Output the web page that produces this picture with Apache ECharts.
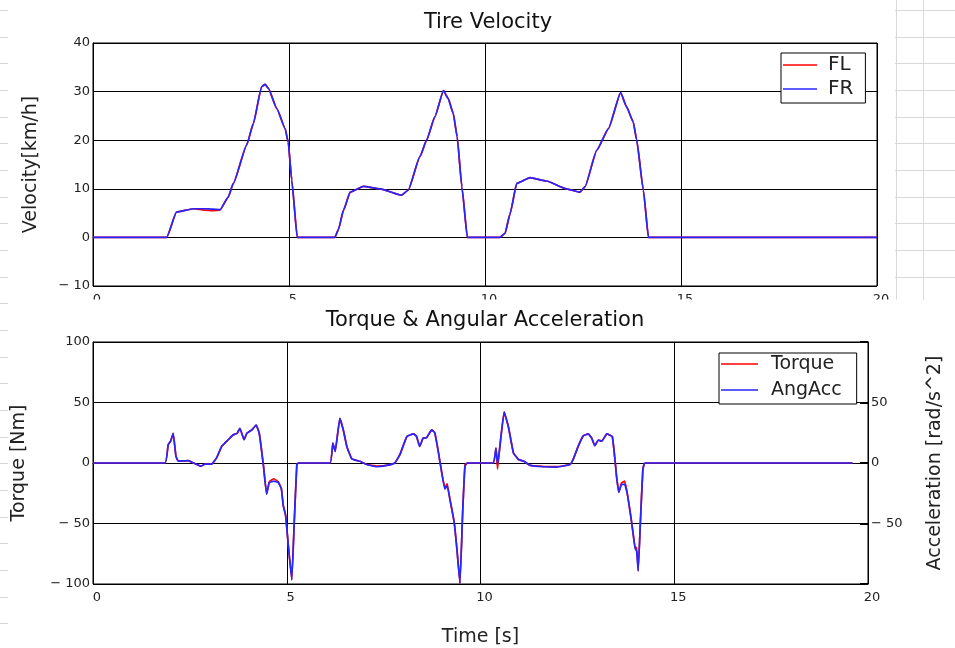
<!DOCTYPE html>
<html>
<head>
<meta charset="utf-8">
<script src="https://cdn.jsdelivr.net/npm/echarts@6/dist/echarts.min.js"></script>
<style>
  html, body { margin: 0; padding: 0; background: #fff; }
  #chart { width: 955px; height: 648px; }
</style>
</head>
<body>
<div id="chart"></div>
<script>
// ---- Tire velocity [km/h] vs time [s] ----
const timeVel = [0, 1.88, 2.13, 2.56, 2.85, 3.05, 3.24, 3.45, 3.58, 3.92, 4.09, 4.30, 4.39, 4.47, 4.69, 4.90, 4.98, 5.07, 5.21,
  6.17, 6.26, 6.39, 6.56, 6.90, 7.32, 7.87, 8.04, 8.34, 8.51, 8.72, 8.94, 9.06, 9.19, 9.29, 9.41, 9.55,
  10.38, 10.51, 10.64, 10.81, 11.15, 11.57, 12.08, 12.42, 12.55, 12.85, 13.15, 13.46, 13.61, 13.78, 13.87, 14.04, 14.17, 20];
const velFR = [0, 0, 5.2, 5.9, 5.9, 5.8, 5.7, 8.3, 11.1, 19.0, 23.4, 31.0, 31.5, 30.7, 26.5, 22.4, 19.6, 11.8, 0,
  0, 1.6, 5.6, 9.3, 10.5, 10.0, 8.7, 9.7, 16.6, 20.0, 24.8, 30.2, 28.6, 25.5, 20.7, 10.4, 0,
  0, 0.8, 4.9, 11.1, 12.3, 11.6, 10.0, 9.3, 10.4, 17.9, 22.4, 29.8, 26.9, 23.8, 20.0, 9.7, 0, 0];
const velFL = [0, 0, 5.2, 5.9, 5.6, 5.5, 5.6, 8.3, 11.1, 19.0, 23.4, 31.0, 31.5, 30.7, 26.5, 22.4, 19.6, 11.8, 0,
  0, 1.6, 5.6, 9.3, 10.5, 10.0, 8.7, 9.7, 16.6, 20.0, 24.8, 30.2, 28.6, 25.5, 20.7, 10.4, 0,
  0, 0.8, 4.9, 11.1, 12.3, 11.6, 10.0, 9.3, 10.4, 17.9, 22.4, 29.8, 26.9, 23.8, 20.0, 9.7, 0, 0];

// ---- Torque [Nm] and angular acceleration [rad/s^2] vs time [s] ----
const timeTq = [0, 1.86, 1.94, 2.00, 2.07, 2.14, 2.20, 2.46, 2.59, 2.78, 2.89, 3.06, 3.19, 3.32, 3.49, 3.62, 3.72, 3.79, 3.90, 3.97, 4.10, 4.21, 4.29, 4.40, 4.48, 4.55, 4.67, 4.78, 4.86, 4.91, 4.97, 5.04, 5.13, 5.19, 5.26, 5.30,
  6.12, 6.19, 6.25, 6.37, 6.46, 6.55, 6.68, 6.89, 7.06, 7.32, 7.58, 7.79, 7.92, 8.10, 8.27, 8.35, 8.43, 8.52, 8.61, 8.74, 8.82, 8.91, 9.00, 9.08, 9.14, 9.21, 9.32, 9.39, 9.47, 9.54, 9.60, 9.66,
  10.33, 10.40, 10.44, 10.50, 10.61, 10.72, 10.85, 10.98, 11.12, 11.28, 11.62, 11.97, 12.31, 12.39, 12.52, 12.65, 12.78, 12.87, 12.95, 13.04, 13.13, 13.26, 13.40, 13.47, 13.51, 13.57, 13.64, 13.72, 13.79, 13.90, 13.99, 14.03, 14.07, 14.13, 14.19, 14.24, 19.6];
const torqueNm = [0, 0, 15.1, 17.8, 24.6, 5.6, 1.5, 2, 0, -2.6, -1, -1, 4.2, 13.7, 19.2, 23.3, 24.6, 28.7, 19.2, 24.6, 27.3, 31.4, 24.6, -2.6, -25.7, -15.5, -13, -15.5, -21, -35.3, -43, -67.9, -96.5, -51.6, -1.2, 0,
  0, 16.5, 9.6, 36.9, 27.3, 13.7, 3.4, 1.4, -1.2, -2.5, -2, 0, 6.9, 21.9, 24.1, 22, 13.7, 20.6, 21, 27.3, 25, 9.6, -8, -20.5, -17, -29.8, -48.8, -70.6, -99.5, -40.7, -1, 0,
  0, 12.4, -5, 13.7, 42.3, 30, 8.3, 2.9, 1.4, -2, -2.8, -3, -1.2, 2.9, 13.7, 22.4, 24, 20.6, 14.3, 19, 18, 24.1, 22, 2.9, -10.8, -24.3, -16.5, -15, -25.7, -48.8, -70, -70, -89.1, -46.1, -5.3, 0, 0];
const angAcc = [0, 0, 15.1, 17.8, 24.6, 5.6, 1.5, 2, 0, -2.6, -1, -1, 4.2, 13.7, 19.2, 23.3, 24.6, 28.7, 19.2, 24.6, 27.3, 31.4, 24.6, -2.6, -25.7, -16.2, -15, -16.2, -21, -35.3, -43, -67.9, -96.5, -51.6, -1.2, 0,
  0, 16.5, 9.6, 36.9, 27.3, 13.7, 3.4, 1.4, -1.2, -3.1, -2, 0, 6.9, 21.9, 24.1, 22, 13.7, 20.6, 21, 27.3, 25, 9.6, -8, -21.6, -19, -29.8, -48.8, -70.6, -99.5, -40.7, -2.6, 0,
  0, 12.4, -1.2, 13.7, 42.3, 30, 8.3, 2.9, 1.4, -2, -3.1, -3.4, -1.2, 2.9, 13.7, 22.4, 24, 20.6, 14.3, 19, 18, 24.1, 22, 2.9, -10.8, -24.3, -17.6, -17.6, -25.7, -48.8, -70.6, -73, -89.1, -46.1, -5.3, 0, 0];

// ---- Tick values ----
const timeTicks = { min: 0, max: 20, interval: 5 };
const velTicks = { min: -10, max: 40, interval: 10 };
const tqTicks = { min: -100, max: 100, interval: 50 };
const accTicks = { min: -100, max: 100, interval: 50 };

const FONT = 'DejaVu Sans';
const TXT = '#222';
const RED = '#ff0000';
const BLUE = '#2626ff';

const signed = v => (v < 0 ? '\u2212 ' + Math.abs(v) : String(v));
const pairs = (xs, ys) => xs.map((x, i) => [x, ys[i]]);

const chart = echarts.init(document.getElementById('chart'), null, { renderer: 'canvas' });

// Faint spreadsheet cell lines behind the charts
const sheetLines = [];
for (let k = 0; k < 24; k++) {
  const y = Math.round(10 + 26.67 * k) + 0.5;
  sheetLines.push({ type: 'line', z: -10, silent: true,
    shape: { x1: 0, y1: y, x2: 8, y2: y }, style: { stroke: '#d6d6d6', lineWidth: 1 } });
  if (y < 300) {
    sheetLines.push({ type: 'line', z: -10, silent: true,
      shape: { x1: 895, y1: y, x2: 955, y2: y }, style: { stroke: '#d9d9d9', lineWidth: 1 } });
  }
}
[896.5, 923.5].forEach(x => sheetLines.push({ type: 'line', z: -10, silent: true,
  shape: { x1: x, y1: 0, x2: x, y2: 300 }, style: { stroke: '#d9d9d9', lineWidth: 1 } }));

const axisLine = { show: true, lineStyle: { color: '#000', width: 1 } };
const gridLine = { show: true, lineStyle: { color: '#000', width: 1, type: 'solid' } };
const labelStyle = { color: TXT, fontFamily: FONT, fontSize: 13 };
const nameStyle = { color: TXT, fontFamily: FONT, fontSize: 19 };

chart.setOption({
  animation: false,
  backgroundColor: '#fff',
  title: [
    { text: 'Tire Velocity', left: 483, top: 7, textAlign: 'center', z: 200,
      textStyle: { fontFamily: FONT, fontSize: 21, fontWeight: 'normal', color: '#111' } },
    { text: 'Torque & Angular Acceleration', left: 480, top: 305, textAlign: 'center', z: 200,
      textStyle: { fontFamily: FONT, fontSize: 21, fontWeight: 'normal', color: '#111' } }
  ],
  legend: [
    { data: ['FL', 'FR'], orient: 'vertical', left: 781, top: 53,
      padding: [1, 12, 3, 2], itemGap: 2, itemWidth: 34, itemHeight: 1.5, icon: 'rect',
      backgroundColor: '#fff', borderColor: '#000', borderWidth: 1, borderRadius: 0, z: 50,
      textStyle: { fontFamily: FONT, fontSize: 20, color: TXT, lineHeight: 22, padding: [0, 0, 0, 6] } },
    { data: ['Torque', 'AngAcc'], orient: 'vertical', left: 719, top: 353,
      padding: [0, 15, 3, 2], itemGap: 4, itemWidth: 37, itemHeight: 1.5, icon: 'rect',
      backgroundColor: '#fff', borderColor: '#000', borderWidth: 1, borderRadius: 0, z: 50,
      textStyle: { fontFamily: FONT, fontSize: 19, color: TXT, lineHeight: 22, padding: [0, 0, 0, 8] } }
  ],
  grid: [
    { left: 93, top: 43, width: 784, height: 243, show: true, borderColor: '#000', borderWidth: 1, backgroundColor: 'transparent' },
    { left: 93, top: 342, width: 775, height: 245, show: true, borderColor: '#000', borderWidth: 1, backgroundColor: 'transparent' }
  ],
  xAxis: [
    { type: 'value', gridIndex: 0, min: timeTicks.min, max: timeTicks.max, interval: timeTicks.interval,
      axisLine, axisTick: { show: false }, splitLine: gridLine,
      axisLabel: { ...labelStyle, margin: 7, padding: [0, 0, 0, 8] } },
    { type: 'value', gridIndex: 1, min: timeTicks.min, max: timeTicks.max, interval: timeTicks.interval,
      axisLine, axisTick: { show: false }, splitLine: gridLine,
      axisLabel: { ...labelStyle, margin: 7, padding: [0, 0, 0, 8] },
      name: 'Time [s]', nameLocation: 'middle', nameGap: 44, nameTextStyle: nameStyle }
  ],
  yAxis: [
    { type: 'value', gridIndex: 0, min: velTicks.min, max: velTicks.max, interval: velTicks.interval,
      axisLine, axisTick: { show: false }, splitLine: gridLine,
      axisLabel: { ...labelStyle, margin: 3, formatter: signed },
      name: 'Velocity[km/h]', nameLocation: 'middle', nameGap: 52, nameTextStyle: nameStyle },
    { type: 'value', gridIndex: 1, min: tqTicks.min, max: tqTicks.max, interval: tqTicks.interval,
      axisLine, axisTick: { show: false }, splitLine: gridLine,
      axisLabel: { ...labelStyle, margin: 3, formatter: signed },
      name: 'Torque [Nm]', nameLocation: 'middle', nameGap: 64, nameTextStyle: nameStyle },
    { type: 'value', gridIndex: 1, position: 'right', min: accTicks.min, max: accTicks.max, interval: accTicks.interval,
      axisLine, splitLine: { show: false },
      axisTick: { show: true, inside: true, length: 8, lineStyle: { color: '#000', width: 2 } },
      axisLabel: { ...labelStyle, margin: 3,
        formatter: v => (Math.abs(v) >= 100 ? '' : signed(v)) },
      name: 'Acceleration [rad/s^2]', nameLocation: 'middle', nameGap: 58, nameRotate: 90,
      nameTextStyle: nameStyle }
  ],
  series: [
    { name: 'FL', type: 'line', xAxisIndex: 0, yAxisIndex: 0, data: pairs(timeVel, velFL),
      showSymbol: false, smooth: 0.15, smoothMonotone: 'x', lineStyle: { color: RED, width: 1.7 }, itemStyle: { color: RED }, z: 2 },
    { name: 'FR', type: 'line', xAxisIndex: 0, yAxisIndex: 0, data: pairs(timeVel, velFR),
      showSymbol: false, smooth: 0.15, smoothMonotone: 'x', lineStyle: { color: BLUE, width: 1.7 }, itemStyle: { color: BLUE }, z: 3 },
    { name: 'Torque', type: 'line', xAxisIndex: 1, yAxisIndex: 1, data: pairs(timeTq, torqueNm),
      showSymbol: false, smooth: 0.1, lineStyle: { color: RED, width: 1.7 }, itemStyle: { color: RED }, z: 2 },
    { name: 'AngAcc', type: 'line', xAxisIndex: 1, yAxisIndex: 2, data: pairs(timeTq, angAcc),
      showSymbol: false, smooth: 0.1, lineStyle: { color: BLUE, width: 1.7 }, itemStyle: { color: BLUE }, z: 3 }
  ],
  graphic: sheetLines.concat([
    // the upper chart's time labels run under the lower chart's heading
    { type: 'rect', z: 150, silent: true, shape: { x: 60, y: 299.5, width: 840, height: 6 }, style: { fill: '#fff' } }
  ])
});
</script>
</body>
</html>
